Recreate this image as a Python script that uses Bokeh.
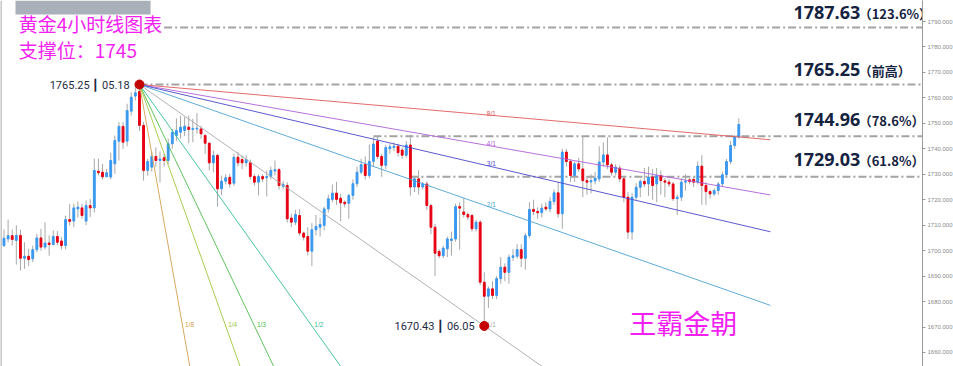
from bokeh.plotting import figure
from bokeh.models import Range1d, SingleIntervalTicker, NumeralTickFormatter, Label, BoxAnnotation, Span
from bokeh.core.properties import value
from bokeh.embed import file_html
from bokeh.resources import INLINE

# ---------------- data (4h gold candles) ----------------
opens = [1702.0, 1704.6, 1705.9, 1704.0, 1706.0, 1697.0, 1697.8, 1696.8, 1700.4, 1705.0,
         1701.4, 1703.0, 1702.4, 1705.6, 1703.8, 1702.0, 1712.2, 1711.6, 1716.4, 1716.8,
         1711.6, 1717.7, 1716.8, 1731.2, 1730.8, 1729.0, 1728.9, 1734.1, 1743.0, 1748.8,
         1743.0, 1754.8, 1760.7, 1762.5, 1749.2, 1731.5, 1732.8, 1737.0, 1735.4, 1736.5,
         1735.4, 1742.0, 1745.2, 1746.5, 1747.2, 1748.5, 1747.6, 1747.8, 1747.8, 1745.2,
         1742.2, 1734.5, 1737.4, 1724.3, 1727.3, 1728.8, 1726.5, 1736.7, 1735.8, 1734.5,
         1734.5, 1729.1, 1726.9, 1729.1, 1728.6, 1729.1, 1731.3, 1731.8, 1725.3, 1725.6,
         1712.8, 1711.2, 1713.8, 1706.9, 1705.6, 1699.8, 1708.2, 1709.2, 1709.9, 1716.4,
         1720.1, 1722.6, 1720.6, 1719.0, 1718.6, 1721.7, 1726.3, 1730.8, 1733.8, 1729.5,
         1735.1, 1743.0, 1737.0, 1733.5, 1740.0, 1740.5, 1741.0, 1739.5, 1737.5, 1741.5,
         1725.0, 1728.2, 1725.0, 1726.2, 1717.7, 1709.2, 1699.7, 1698.0, 1700.7, 1704.0,
         1704.6, 1717.3, 1715.2, 1714.2, 1713.8, 1708.6, 1711.2, 1687.6, 1682.1, 1685.0,
         1682.4, 1689.0, 1693.5, 1691.5, 1697.4, 1697.8, 1700.4, 1697.0, 1705.9, 1716.2,
         1715.4, 1714.9, 1717.1, 1716.4, 1719.3, 1722.7, 1714.5, 1738.7, 1735.0, 1729.5,
         1734.1, 1732.1, 1727.5, 1727.0, 1727.4, 1728.2, 1734.8, 1737.6, 1733.7, 1730.8,
         1732.4, 1728.2, 1721.0, 1707.3, 1721.0, 1724.9, 1727.2, 1726.2, 1728.9, 1726.2,
         1729.5, 1727.4, 1726.9, 1726.2, 1720.4, 1721.0, 1726.9, 1727.8, 1728.0, 1726.9,
         1733.2, 1725.6, 1723.2, 1722.3, 1723.6, 1726.2, 1729.8, 1735.0, 1741.3, 1744.6]
highs = [1708.3, 1712.2, 1708.3, 1710.0, 1708.3, 1703.3, 1700.7, 1702.0, 1706.6, 1708.6,
         1711.2, 1706.0, 1708.0, 1707.7, 1705.3, 1713.8, 1718.4, 1718.4, 1719.3, 1718.4,
         1719.7, 1720.3, 1736.1, 1736.1, 1734.0, 1732.1, 1738.4, 1745.2, 1750.5, 1750.5,
         1757.7, 1762.2, 1764.9, 1765.25, 1750.5, 1736.1, 1738.7, 1740.6, 1739.0, 1738.0,
         1744.0, 1747.8, 1752.0, 1753.0, 1752.5, 1753.1, 1751.8, 1754.0, 1749.0, 1745.9,
         1742.6, 1739.3, 1738.0, 1729.5, 1730.0, 1730.2, 1738.0, 1738.7, 1737.4, 1737.4,
         1735.8, 1730.0, 1730.0, 1730.0, 1731.5, 1733.0, 1735.4, 1732.5, 1727.3, 1726.9,
         1714.5, 1716.0, 1716.3, 1707.5, 1709.2, 1710.8, 1714.0, 1712.9, 1717.3, 1722.0,
         1726.0, 1727.0, 1722.3, 1719.7, 1722.3, 1728.0, 1733.0, 1736.1, 1737.0, 1741.6,
         1744.5, 1745.0, 1738.0, 1741.5, 1742.0, 1742.5, 1742.0, 1740.5, 1743.0, 1745.5,
         1729.5, 1731.6, 1727.0, 1727.2, 1718.5, 1710.5, 1700.5, 1702.0, 1705.5, 1707.5,
         1718.5, 1719.0, 1720.6, 1715.0, 1714.5, 1712.0, 1712.0, 1691.5, 1686.0, 1688.0,
         1690.0, 1697.5, 1695.0, 1698.5, 1700.5, 1702.5, 1702.5, 1707.0, 1719.0, 1720.0,
         1717.0, 1718.5, 1719.0, 1721.0, 1724.0, 1727.0, 1740.0, 1740.0, 1736.0, 1735.0,
         1736.5, 1745.0, 1729.0, 1730.0, 1731.0, 1741.0, 1742.5, 1744.5, 1734.5, 1734.0,
         1733.5, 1729.0, 1723.0, 1722.6, 1726.5, 1728.0, 1732.5, 1733.0, 1732.0, 1732.5,
         1731.5, 1728.5, 1728.0, 1727.0, 1722.0, 1728.5, 1730.0, 1728.5, 1729.0, 1735.0,
         1737.5, 1727.0, 1724.0, 1724.5, 1727.0, 1731.0, 1736.0, 1743.0, 1745.5, 1752.0]
lows = [1701.4, 1703.3, 1702.0, 1694.5, 1692.2, 1692.9, 1694.0, 1695.5, 1699.4, 1700.0,
        1700.5, 1698.0, 1702.0, 1702.0, 1700.5, 1700.5, 1709.9, 1709.2, 1713.0, 1712.5,
        1710.0, 1713.2, 1715.0, 1729.5, 1728.0, 1728.9, 1728.0, 1730.2, 1735.4, 1740.0,
        1741.0, 1753.0, 1759.0, 1747.0, 1727.5, 1729.5, 1731.0, 1733.0, 1726.8, 1733.0,
        1734.0, 1740.0, 1743.0, 1744.0, 1745.0, 1742.2, 1742.6, 1746.0, 1744.0, 1738.0,
        1731.5, 1730.8, 1717.3, 1721.7, 1726.0, 1724.7, 1725.5, 1733.0, 1732.0, 1733.0,
        1728.0, 1725.5, 1721.7, 1727.0, 1721.3, 1728.0, 1729.5, 1724.0, 1724.0, 1711.0,
        1709.2, 1710.0, 1705.9, 1704.0, 1698.1, 1693.9, 1706.0, 1705.6, 1708.0, 1715.0,
        1719.0, 1718.0, 1711.6, 1717.0, 1712.5, 1720.0, 1725.0, 1730.0, 1728.0, 1728.5,
        1733.0, 1736.0, 1729.0, 1732.0, 1738.0, 1739.0, 1737.0, 1736.0, 1736.5, 1721.6,
        1723.0, 1722.0, 1724.0, 1716.0, 1706.5, 1690.0, 1697.0, 1697.0, 1697.5, 1698.0,
        1703.5, 1700.4, 1713.0, 1712.0, 1707.5, 1707.5, 1686.5, 1670.43, 1677.5, 1681.0,
        1681.0, 1687.0, 1688.0, 1687.0, 1696.0, 1697.0, 1693.5, 1692.5, 1705.0, 1714.0,
        1712.5, 1713.0, 1715.5, 1715.0, 1718.0, 1713.0, 1708.6, 1733.0, 1727.0, 1727.0,
        1731.0, 1721.0, 1722.0, 1722.5, 1726.0, 1727.0, 1733.0, 1732.0, 1729.5, 1729.5,
        1727.0, 1719.0, 1704.7, 1704.3, 1720.0, 1721.0, 1725.0, 1721.5, 1720.0, 1719.0,
        1722.0, 1721.0, 1725.0, 1719.5, 1714.0, 1719.5, 1723.5, 1726.0, 1725.0, 1726.0,
        1718.0, 1718.0, 1720.5, 1721.5, 1722.0, 1725.0, 1729.0, 1734.0, 1740.0, 1744.0]
closes = [1704.9, 1705.9, 1704.4, 1706.0, 1697.0, 1697.8, 1696.5, 1700.4, 1705.0, 1701.4,
          1703.0, 1702.4, 1705.6, 1703.3, 1702.0, 1712.2, 1711.5, 1716.8, 1717.1, 1713.8,
          1717.7, 1716.8, 1731.5, 1730.6, 1729.0, 1730.6, 1735.4, 1743.3, 1748.8, 1742.6,
          1755.0, 1760.3, 1762.0, 1749.2, 1731.5, 1735.0, 1737.0, 1735.4, 1736.0, 1735.4,
          1742.0, 1746.5, 1747.2, 1748.5, 1748.9, 1747.6, 1748.0, 1748.1, 1745.9, 1742.2,
          1734.5, 1737.4, 1724.3, 1727.3, 1728.6, 1726.2, 1736.7, 1734.5, 1734.5, 1735.8,
          1729.1, 1726.9, 1729.1, 1728.2, 1729.1, 1731.5, 1731.8, 1725.6, 1726.0, 1712.5,
          1711.2, 1714.2, 1706.9, 1705.3, 1699.8, 1708.2, 1709.5, 1710.3, 1716.4, 1720.4,
          1722.6, 1720.1, 1718.8, 1718.4, 1721.7, 1726.3, 1730.8, 1733.8, 1729.5, 1735.1,
          1741.9, 1737.0, 1733.5, 1740.5, 1740.8, 1741.0, 1738.5, 1737.5, 1741.5, 1725.0,
          1728.2, 1725.0, 1726.2, 1717.7, 1709.2, 1699.0, 1698.0, 1701.0, 1704.6, 1704.6,
          1717.3, 1716.7, 1714.2, 1713.2, 1708.6, 1711.2, 1687.6, 1682.1, 1685.0, 1682.4,
          1689.0, 1693.5, 1691.5, 1697.4, 1698.0, 1700.4, 1697.0, 1705.9, 1716.2, 1715.4,
          1714.9, 1716.7, 1716.4, 1719.3, 1722.7, 1714.5, 1738.7, 1735.0, 1729.5, 1734.1,
          1732.1, 1727.5, 1726.9, 1727.5, 1728.5, 1734.8, 1737.6, 1733.7, 1730.8, 1732.8,
          1728.2, 1721.0, 1707.3, 1721.0, 1724.9, 1727.2, 1726.2, 1728.9, 1725.6, 1729.5,
          1727.5, 1726.9, 1726.2, 1720.4, 1721.0, 1726.9, 1727.3, 1727.2, 1726.9, 1733.2,
          1725.6, 1723.2, 1722.3, 1723.6, 1726.2, 1729.8, 1735.0, 1741.3, 1744.6, 1749.55]

swing_high_idx, swing_high, swing_high_date = 33, 1765.25, "05.18"
swing_low_idx, swing_low, swing_low_date = 117, 1670.43, "06.05"

fan_names = ["8/1", "4/1", "3/1", "2/1", "1/1", "1/2", "1/3", "1/4", "1/8"]
fan_factors = [8, 4, 3, 2, 1, 1 / 2, 1 / 3, 1 / 4, 1 / 8]
fan_colors = ["#e05a5a", "#b060d8", "#4848cc", "#4aa3d4", "#a8a8a8",
              "#34bc98", "#4cbc4c", "#a0c83c", "#d4a050"]

levels = [1787.63, 1765.25, 1744.96, 1729.03]
level_values = ["1787.63", "1765.25", "1744.96", "1729.03"]
level_notes = ["（123.6%）", "（前高）", "（78.6%）", "（61.8%）"]
level_start_idx = [39, 33, 90, 99]

title_lines = ["黄金4小时线图表", "支撑位：1745"]
brand = "王霸金朝"
last_price = 1749.55
last_time = "10:27"

# ---------------- figure ----------------
X0, X1 = -0.853, 223.75
Y0, Y1 = 1654.5, 1798.25
PX_PER_UNIT = 366 / (Y1 - Y0)

p = figure(frame_width=922, frame_height=366, x_range=Range1d(X0, X1), y_range=Range1d(Y0, Y1),
           output_backend="svg", toolbar_location=None, x_axis_location=None,
           y_axis_location="right", min_border=0, outline_line_color=None,
           background_fill_color="white", border_fill_color="white")
p.grid.visible = False

ax = p.yaxis[0]
ax.ticker = SingleIntervalTicker(interval=10, num_minor_ticks=0)
ax.formatter = NumeralTickFormatter(format="0.000")
ax.axis_line_color = "#9a9a9a"
ax.major_tick_line_color = "#9a9a9a"
ax.major_tick_out = 3
ax.major_tick_in = 0
ax.minor_tick_line_color = None
ax.major_label_text_font_size = "6px"
ax.major_label_text_color = "#8a8a8a"
ax.major_label_text_font = "Liberation Sans"
ax.major_label_standoff = 2

p.add_layout(Span(location=X0 + 0.12, dimension="height", line_color="#8c8c8c", line_width=1))
p.add_layout(BoxAnnotation(left=2.8, right=35.7, top=Y1, bottom=Y1 - 14 / PX_PER_UNIT,
                           fill_color="#a9b0b9", fill_alpha=1, line_color=None, level="overlay"))

idx = list(range(len(opens)))
up = [c >= o for o, c in zip(opens, closes)]
body_top = [max(o, c) for o, c in zip(opens, closes)]
body_bot = [min(o, c) for o, c in zip(opens, closes)]
body_col = ["#3a98ef" if u else "#e60012" for u in up]

# horizontal fib levels
p.segment(x0=level_start_idx, y0=levels, x1=[X1 + 5] * len(levels), y1=levels,
          line_color="#a3a3a3", line_width=2, line_dash="8 3 2 3")

# candles
p.segment(x0=idx, y0=highs, x1=idx, y1=lows, line_color="#a8a8a8", line_width=1)
p.vbar(x=idx, width=0.45, top=body_top, bottom=body_bot, fill_color=body_col,
       line_color=body_col, line_width=1)

# gann fan
base_slope = (swing_low - swing_high) / (swing_low_idx - swing_high_idx)
fan_slopes = [base_slope / f for f in fan_factors]
FAN_END = 186.7
p.segment(x0=[swing_high_idx] * len(fan_slopes), y0=[swing_high] * len(fan_slopes),
          x1=[FAN_END] * len(fan_slopes),
          y1=[swing_high + s * (FAN_END - swing_high_idx) for s in fan_slopes],
          line_color=fan_colors, line_width=1, line_alpha=0.9)

lab_x, lab_y = [], []
for f, s in zip(fan_factors, fan_slopes):
    if f >= 1:
        lab_x.append(swing_low_idx)
        lab_y.append(swing_high + s * (swing_low_idx - swing_high_idx))
    else:
        lab_x.append(swing_high_idx + (swing_low - swing_high) / s)
        lab_y.append(swing_low)
p.text(x=lab_x, y=lab_y, text=fan_names, text_color=fan_colors, text_font_size="6.5px",
       text_align="center", text_baseline="middle", x_offset=7, y_offset=-1,
       text_font=value("Liberation Sans"))

# swing points
p.scatter(x=[swing_high_idx, swing_low_idx], y=[swing_high, swing_low], size=9,
          fill_color="#c40000", line_color="#c40000")
p.text(x=[swing_high_idx, swing_low_idx], y=[swing_high, swing_low],
       text=[f"{swing_high:.2f}  \u2503 {swing_high_date}", f"{swing_low:.2f}  \u2503 {swing_low_date}"],
       text_align="right", text_baseline="middle", x_offset=-7, y_offset=1,
       text_font_size="11px", text_color="#1e2b45", text_font=value("Roboto"))

# level labels on the right
LAB_X = 192.3
NOTE_X = 208.2
offs = [-15, -15, -17, -17]
p.text(x=[LAB_X] * 4, y=levels, text=level_values, y_offset=offs, text_align="left",
       text_baseline="middle", text_font_size="18px", text_font_style="bold",
       text_color="#15233f", text_font=value("Open Sans"))
p.text(x=[NOTE_X] * 4, y=levels, text=level_notes, y_offset=[o + 1 for o in offs],
       text_align="left", text_baseline="middle", text_font_size="13px",
       text_font_style="bold", text_color="#15233f", text_font=value("Noto Sans CJK SC"))

# title lines
p.text(x=[3.6, 3.6], y=[Y1, Y1], text=title_lines, y_offset=[23, 49], text_align="left",
       text_baseline="middle", text_font_size="19px", text_color="#f21ef2",
       text_font=value("Noto Sans CJK SC"))
p.text(x=[152.3], y=[Y0], text=[brand], y_offset=[-44], text_align="left",
       text_baseline="middle", text_font_size="27px", text_color="#f21ef2",
       text_font=value("Noto Sans CJK SC"))

# current price tag (sits over the price axis)
p.add_layout(Label(x=X1, y=last_price, text=f"{last_price:.3f}", text_font_size="6.5px",
                   text_color="white", background_fill_color="#2f8ff0", text_baseline="middle",
                   x_offset=1, text_font="Liberation Sans", level="overlay"))
p.add_layout(Label(x=X1, y=last_price, text=last_time, text_font_size="6.5px",
                   text_color="white", background_fill_color="#5aa8f5", text_baseline="middle",
                   x_offset=11, y_offset=-9, text_font="Liberation Sans", level="overlay"))

open("out.html", "w").write(file_html(p, INLINE))
